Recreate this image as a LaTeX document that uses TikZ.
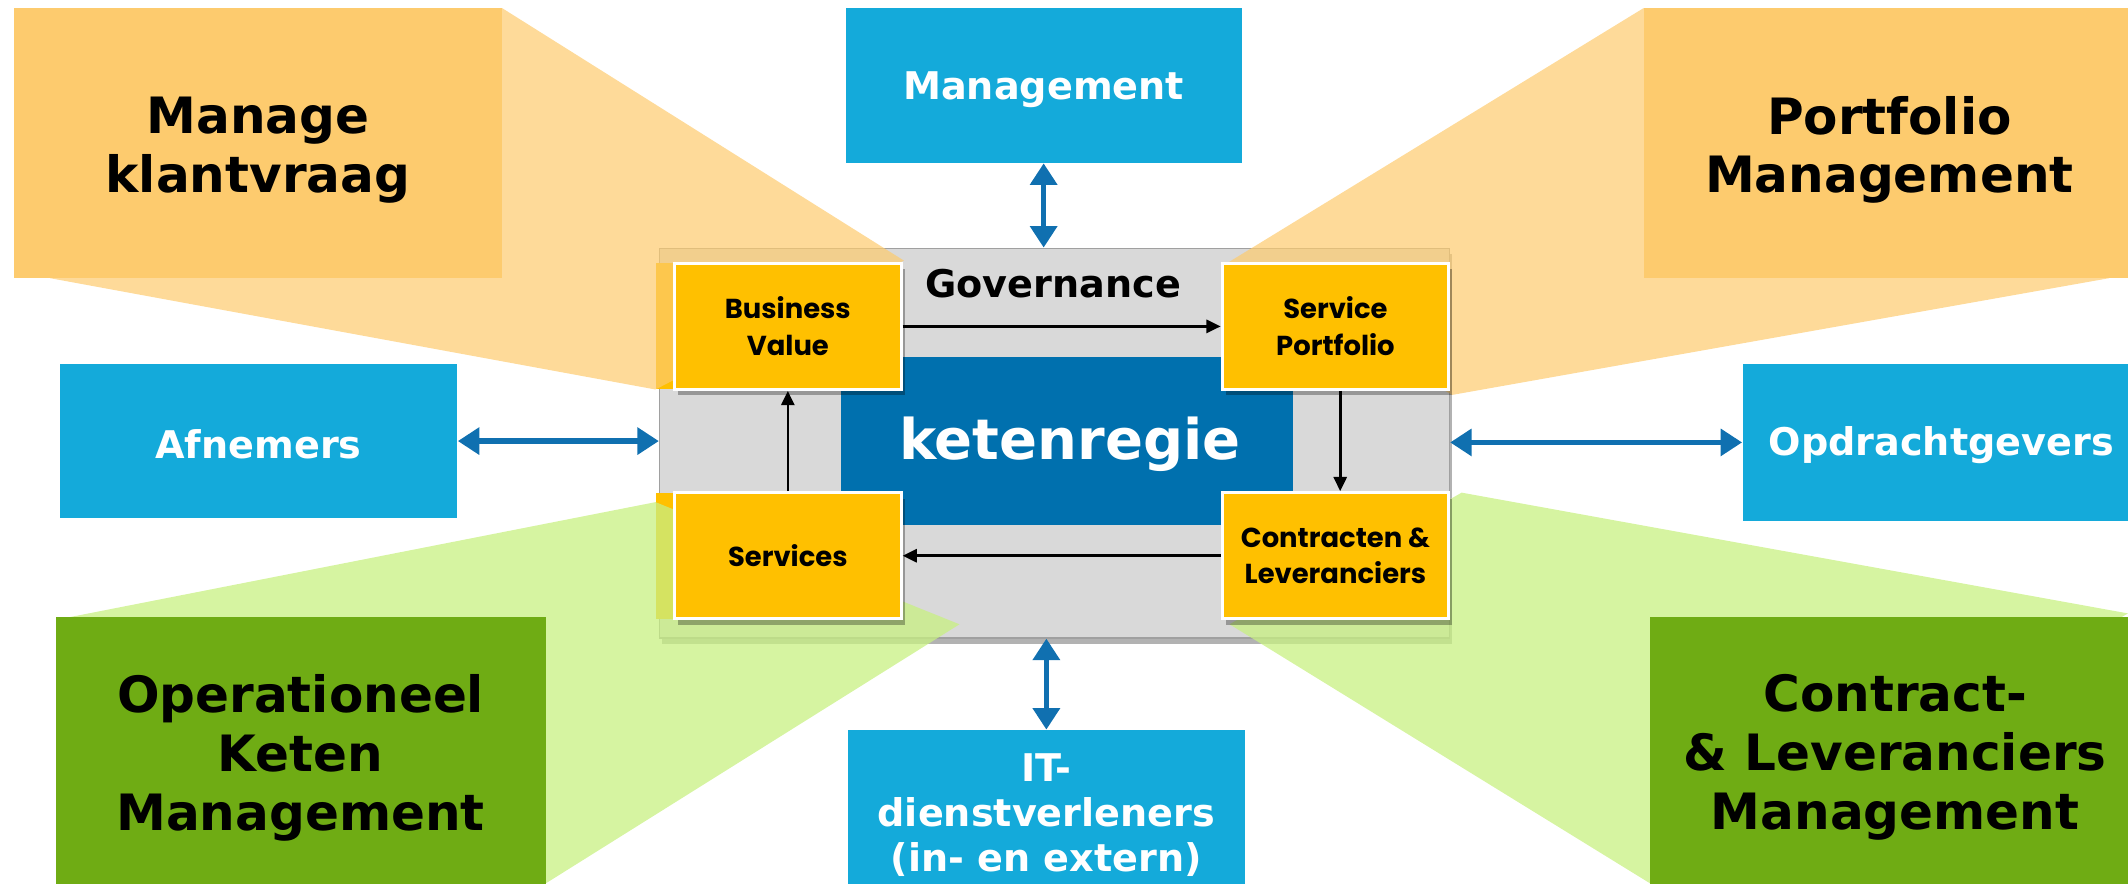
\documentclass[tikz,border=0pt]{standalone}
\usepackage{fontspec}
\setmainfont{DejaVu Sans}
\newfontfamily\pop{Poppins}
\usetikzlibrary{arrows.meta,shadows}
\definecolor{org}{RGB}{253,203,110}
\definecolor{lblue}{RGB}{20,170,218}
\definecolor{dblue}{RGB}{0,112,174}
\definecolor{ablue}{RGB}{16,112,176}
\definecolor{yel}{RGB}{255,192,0}
\definecolor{grn}{RGB}{111,172,20}
\definecolor{lgrn}{RGB}{200,240,130}
\definecolor{gry}{RGB}{217,217,217}
\definecolor{gryline}{RGB}{160,160,160}
\begin{document}
\begin{tikzpicture}[x=0.02cm, y=-0.02cm,
  sz/.style 2 args={minimum width=#1*0.02cm, minimum height=#2*0.02cm},
  bigtext/.style={inner sep=0pt, font=\fontsize{21}{24.7}\selectfont\bfseries, align=center},
  orgbox/.style={inner sep=0pt, fill=org},
  grnbox/.style={inner sep=0pt, fill=grn},
  bluebox/.style={inner sep=0pt, fill=lblue},
  bluetext/.style={inner sep=0pt, text=white, font=\fontsize{16}{18.8}\selectfont\bfseries, align=center},
  ybox/.style={inner sep=0pt, fill=yel, draw=white, line width=1.2pt, font=\pop\bfseries\fontsize{11.5}{15.4}\selectfont, align=center,
    sz={167}{93},
    drop shadow={shadow xshift=1.5pt, shadow yshift=-2.5pt, opacity=0.3, fill=black}},
  orgfan/.style={fill=org, opacity=0.7},
  grnfan/.style={fill=lgrn, opacity=0.75},
  blk/.style={-{Triangle[length=6pt,width=5.5pt]}, line width=1.1pt},
  blu/.style={{Triangle[length=9pt,width=11pt]}-{Triangle[length=9pt,width=11pt]}, line width=2.3pt, draw=ablue}
]
\useasboundingbox (0,0) rectangle (1568,651);

% central grey box
\node[sz={582}{287}, inner sep=0pt, fill=gry, draw=gryline, line width=0.6pt,
  drop shadow={shadow xshift=1pt, shadow yshift=-2.5pt, opacity=0.3, fill=black}] (gov) at (777,326.5) {};
\node[font=\fontsize{16}{18}\selectfont\bfseries] (govt) at (776,209) {Governance};

% yellow strips behind boxes
\fill[yel] (483,194) rectangle (497,287);
\fill[yel] (483,363) rectangle (497,456);

% fans
\fill[orgfan] (370,6) -- (666,192) -- (483,287) -- (37,205) -- cycle;
\fill[orgfan] (1211,6) -- (904,194) -- (1070,291) -- (1554,205) -- cycle;
\fill[grnfan] (50,455) -- (483,370) -- (707,460) -- (402,651) -- cycle;
\fill[grnfan] (1077,363) -- (1568,452) -- (1216,651) -- (906,460) -- cycle;

% outer boxes
\node[orgbox, sz={360}{199}] (mk) at (190,105.5) {};
\node[bigtext] (mkt) at ([yshift=-2.8pt]mk.center) {Manage\\klantvraag};
\node[orgbox, sz={357}{199}] (pm) at (1389.5,105.5) {};
\node[bigtext] (pmt) at ([xshift=1.5pt,yshift=-2.8pt]pm.center) {Portfolio\\Management};
\node[grnbox, sz={361}{196}] (ok) at (221.5,553) {};
\node[bigtext] (okt) at ([yshift=-3pt]ok.center) {Operationeel\\Keten\\Management};
\node[grnbox, sz={352}{196}] (clm) at (1392,553) {};
\node[bigtext] (clmt) at ([xshift=2.5pt,yshift=-3pt]clm.center) {Contract-\\\& Leveranciers\\Management};
\node[bluebox, sz={292}{114}] (mg) at (769,63) {};
\node[bluetext] (mgt) at ([yshift=-1.7pt]mg.center) {Management};
\node[bluebox, sz={293}{114}] (af) at (190.5,325) {};
\node[bluetext] (aft) at ([yshift=-1.2pt]af.center) {Afnemers};
\node[bluebox, sz={284}{116}] (od) at (1426,326) {};
\node[bluetext] (odt) at ([xshift=2.5pt,yshift=-1.2pt]od.center) {Opdrachtgevers};
\node[bluebox, sz={292}{113}] (it) at (771,594.5) {};
\node[bluetext] (itt) at ([yshift=-3.4pt]it.center) {IT-\\dienstverleners\\(in- en extern)};

% ketenregie
\node[sz={333}{124}, inner sep=0pt, fill=dblue] (ket) at (786.5,325) {};
\node[inner sep=0pt, text=white, font=\fontsize{23.5}{26}\selectfont\bfseries] (kett) at ([xshift=1pt,yshift=-1.5pt]ket.center) {ketenregie};

% yellow boxes
\node[ybox] (bv) at (580.5,240.5) {Business\\Value};
\node[ybox] (sp) at (984,240.5) {Service\\Portfolio};
\node[ybox] (sv) at (580.5,409.5) {Services};
\node[ybox] (cl) at (984,409.5) {Contracten \&\\Leveranciers};

% black arrows
\draw[blk] (bv.east) -- (sp.west);
\draw[blk] ([xshift=2pt]sp.south) -- ([xshift=2pt]cl.north);
\draw[blk] (cl.west) -- (sv.east);
\draw[blk] (sv.north) -- (bv.south);

% blue double arrows
\draw[blu] (mg.south) -- (mg.south |- gov.north);
\draw[blu] (af.east) -- (af.east -| gov.west);
\draw[blu] (od.west) -- (od.west -| gov.east);
\draw[blu] (it.north) -- (it.north |- gov.south);
\end{tikzpicture}
\end{document}
